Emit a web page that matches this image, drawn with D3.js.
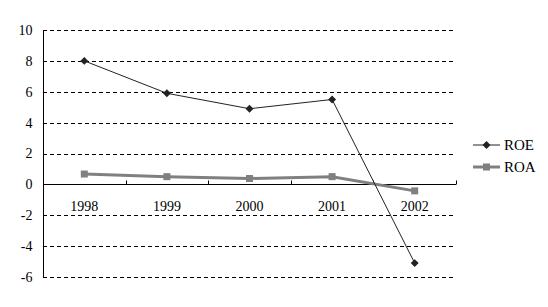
<!DOCTYPE html>
<html><head><meta charset="utf-8">
<script src="https://cdn.jsdelivr.net/npm/d3@7"></script>
<style>body{margin:0;background:#fff}svg{display:block}text{font-family:"Liberation Serif","Times New Roman",serif;fill:#000}</style>
</head><body><svg id="c" width="548" height="307"></svg>
<script>
const years = ["1998","1999","2000","2001","2002"];
const roe = [8.0, 5.9, 4.9, 5.5, -5.1];
const roa = [0.67, 0.5, 0.38, 0.5, -0.42];
const yTicks = [-6,-4,-2,0,2,4,6,8,10];

const svg = d3.select("#c");
const L=43, R=456, T=30, B=277;
const x = d3.scaleBand().domain(years).range([L,R]);
const y = d3.scaleLinear().domain([-6,10]).range([B,T]);

// gridlines
svg.append("g").selectAll("line").data(yTicks.filter(d=>d!==0)).join("line")
  .attr("x1",L).attr("x2",R).attr("y1",d=>Math.round(y(d))+0.5).attr("y2",d=>Math.round(y(d))+0.5)
  .attr("stroke","#000").attr("stroke-dasharray","4,3");

// y axis
const ya = svg.append("g").attr("transform",`translate(${L+0.5},0)`)
  .call(d3.axisLeft(y).tickValues(yTicks).tickSize(0).tickPadding(11).tickFormat(d=>String(d)));
ya.select(".domain").attr("stroke","#000").attr("d",`M0,${Math.round(y(10))}V${Math.round(y(-6))+0.5}`);
ya.selectAll("text").attr("font-size",14).attr("font-family","Liberation Serif");

// x axis at zero
const y0 = Math.round(y(0))+0.5;
const xa = svg.append("g").attr("transform",`translate(0,${y0})`)
  .call(d3.axisBottom(x).tickSize(0).tickPadding(17));
xa.select(".domain").attr("stroke","#000").attr("d",`M${L},0H${R}`);
xa.selectAll("text").attr("font-size",14).attr("font-family","Liberation Serif");
// boundary ticks pointing up
const bounds = years.map(d=>x(d)+x.bandwidth());
svg.append("g").selectAll("line").data(bounds).join("line")
  .attr("x1",d=>Math.round(d)+0.5).attr("x2",d=>Math.round(d)+0.5)
  .attr("y1",y0-4).attr("y2",y0).attr("stroke","#000");

const cx = d => x(d)+x.bandwidth()/2;
const line = d3.line().x((d,i)=>cx(years[i])).y(d=>y(d));

// ROA
svg.append("path").datum(roa).attr("d",line).attr("fill","none").attr("stroke","#808080").attr("stroke-width",3);
svg.append("g").selectAll("rect").data(roa).join("rect")
  .attr("x",(d,i)=>cx(years[i])-3.5).attr("y",d=>y(d)-3.5).attr("width",7).attr("height",7).attr("fill","#808080");

// ROE
svg.append("path").datum(roe).attr("d",line).attr("fill","none").attr("stroke","#222").attr("stroke-width",1);
const diamond = d3.symbol().type(d3.symbolDiamond2).size(40);
svg.append("g").selectAll("path").data(roe).join("path")
  .attr("d",diamond).attr("transform",(d,i)=>`translate(${cx(years[i])},${y(d)})`).attr("fill","#222");

// legend
const leg = [{n:"ROE",c:"#222",w:1,s:"d"},{n:"ROA",c:"#808080",w:3,s:"s"}];
const lg = svg.append("g");
leg.forEach((d,i)=>{
  const ly = 145 + i*22;
  lg.append("line").attr("x1",473).attr("x2",500).attr("y1",ly).attr("y2",ly).attr("stroke",d.c).attr("stroke-width",d.w);
  if(d.s==="d") lg.append("path").attr("d",diamond).attr("transform",`translate(486.5,${ly})`).attr("fill",d.c);
  else lg.append("rect").attr("x",483).attr("y",ly-3.5).attr("width",7).attr("height",7).attr("fill",d.c);
  lg.append("text").attr("x",504).attr("y",ly+5).attr("font-size",15).text(d.n);
});
</script></body></html>
